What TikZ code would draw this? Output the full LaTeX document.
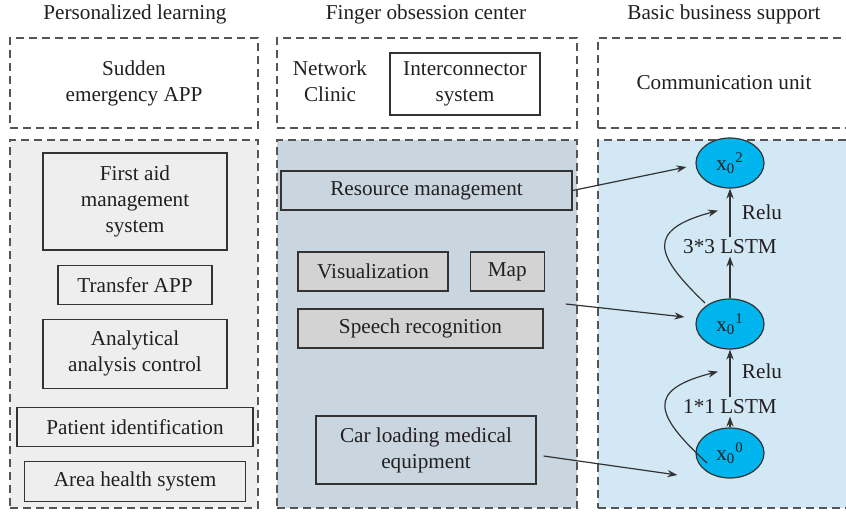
\documentclass[tikz,border=0pt]{standalone}
\usepackage{fontspec}
\setmainfont{Liberation Serif}
\usetikzlibrary{arrows.meta,calc,positioning,shapes.geometric}
\definecolor{txtCol}{HTML}{231F20}
\definecolor{lineCol}{HTML}{333333}
\definecolor{zoneEdge}{HTML}{555555}
\definecolor{learnCol}{HTML}{EEEEEE}
\definecolor{centerCol}{HTML}{C9D6E0}
\definecolor{supportCol}{HTML}{D2E8F5}
\definecolor{modCol}{HTML}{D3D3D3}
\definecolor{stateCol}{HTML}{00B4EE}
\newcommand{\xstate}[1]{x\textsubscript{0}\textsuperscript{#1}}
\tikzset{
  base/.style={font=\fontsize{10.6}{13}\selectfont, text=txtCol, align=center},
  zone/.style n args={3}{base, draw=zoneEdge, fill=#1, dash pattern=on 4pt off 2.5pt,
        line width=0.6pt, minimum width=#2, minimum height=#3, inner sep=0pt},
  box/.style n args={3}{base, draw=lineCol, fill=#1, line width=0.6pt,
        minimum width=#2, minimum height=#3, inner sep=1pt},
  state/.style={base, ellipse, draw=lineCol, fill=stateCol, line width=0.6pt,
        minimum width=34pt, minimum height=25pt, inner sep=0pt},
  title/.style={base, inner sep=1pt},
  lbl/.style={base, inner sep=1pt},
  arr/.style={-{Stealth[length=5pt,width=3.6pt]}, draw=lineCol, line width=0.6pt},
}
\begin{document}
\begin{tikzpicture}[x=0.5pt,y=-0.5pt]
  \useasboundingbox (0,0) rectangle (846,511);
  % column titles
  \node[title] (tLearn) at (135,14) {Personalized learning};
  \node[title] (tCenter) at (426,14) {Finger obsession center};
  \node[title] (tSupport) at (724,14) {Basic business support};
  % top row
  \node[zone={white}{124pt}{45pt}] (appZone) at (134,83) {Sudden\\emergency APP};
  \node[zone={white}{150pt}{45pt}] (netZone) at (427,83) {};
  \node[lbl] (clinic) at (330,81) {Network\\Clinic};
  \node[box={white}{75pt}{31pt}] (inter) at (465,84) {Interconnector\\system};
  \node[zone={white}{126pt}{45pt}] (commZone) at (724,83) {Communication unit};
  % bottom row
  \node[zone={learnCol}{124pt}{184pt}] (learnZone) at (134,324) {};
  \node[zone={centerCol}{150pt}{184pt}] (centerZone) at (427,324) {};
  \node[zone={supportCol}{126pt}{184pt}] (supportZone) at (724,324) {};
  % personalized learning modules
  \node[box={learnCol}{92pt}{48.5pt}] (firstAid) at (135,201.5) {First aid\\management\\system};
  \node[box={learnCol}{77pt}{19.5pt}, below=7pt of firstAid] (transfer) {Transfer APP};
  \node[box={learnCol}{92pt}{34.5pt}, below=7pt of transfer] (analysis) {Analytical\\analysis control};
  \node[box={learnCol}{118pt}{19.5pt}, below=9pt of analysis] (patient) {Patient identification};
  \node[box={learnCol}{110.5pt}{20pt}, below=7pt of patient] (area) {Area health system};
  % center modules
  \node[box={centerCol}{145.5pt}{19.5pt}] (resource) at (426.5,190.5) {Resource management};
  \node[box={modCol}{75pt}{19.5pt}] (visual) at (373,271.5) {Visualization};
  \node[box={modCol}{37pt}{19.5pt}, right=10.5pt of visual] (map) {Map};
  \node[box={modCol}{122.5pt}{19.5pt}] (speech) at (420.5,328.5) {Speech recognition};
  \node[box={centerCol}{110pt}{34pt}] (carEquip) at (426,450) {Car loading medical\\equipment};
  % support: states
  \node[state] (x2) at (730,163) {\xstate{2}};
  \node[state] (x1) at (730,324) {\xstate{1}};
  \node[state] (x0) at (730,453) {\xstate{0}};
  \node[lbl] (lstmA) at (730,407) {1*1 LSTM};
  \node[lbl] (lstmB) at (730,247) {3*3 LSTM};
  \node[lbl] (reluA) at (762,371) {Relu};
  \node[lbl] (reluB) at (762,212) {Relu};
  \coordinate (midSrc) at (566,304);
  % edges
  \draw[arr] (resource.east) -- ([xshift=-4.5pt,yshift=-2pt]x2.west);
  \draw[arr] (midSrc) -- ([xshift=-5.5pt,yshift=3.5pt]x1.west);
  \draw[arr] ([xshift=3.5pt,yshift=-3pt]carEquip.east) -- ([xshift=-9pt,yshift=-11pt]x0.west);
  \draw[arr] (x0) -- (lstmA);
  \draw[arr] (lstmA) -- (x1);
  \draw[arr] (x1) -- (lstmB);
  \draw[arr] (lstmB) -- (x2);
  \draw[arr] ($(x0)+(-23,10)$) .. controls ($(x0)+(-75,-38)$) and ($(x0)+(-85,-63)$) .. ($(x1.south)+(-12,22)$);
  \draw[arr] ($(x1)+(-25,-21)$) .. controls ($(x1)+(-75,-69)$) and ($(x1)+(-85,-94)$) .. ($(x2.south)+(-12,22)$);
\end{tikzpicture}
\end{document}
